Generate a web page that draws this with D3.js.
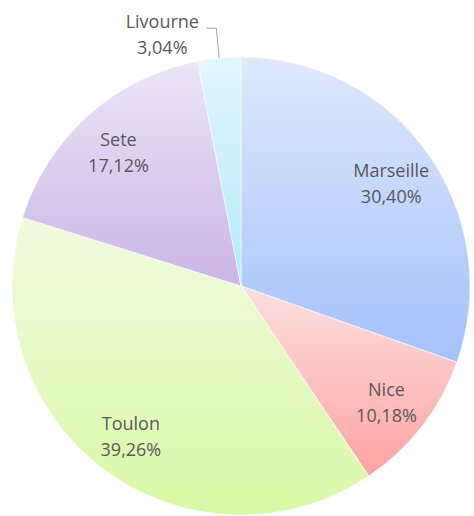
<!DOCTYPE html>
<html>
<head>
<meta charset="utf-8">
<script src="https://cdn.jsdelivr.net/npm/d3@7"></script>
<style>
  body { margin: 0; background: #fff; }
  text { font-family: "Open Sans", sans-serif; fill: #595959; }
</style>
</head>
<body>
<svg id="chart" width="474" height="516"></svg>
<script>
// data
var cities = ["Marseille", "Nice", "Toulon", "Sete", "Livourne"];
var shares = [30.40, 10.18, 39.26, 17.12, 3.04];
var topColors = ["#dfe8fc", "#fde0e0", "#f1fbe0", "#ece5f6", "#e2f6fd"];
var bottomColors = ["#a3c1fb", "#fca3a1", "#d8f9a4", "#cbb4e6", "#b2eafa"];

var svg = d3.select("#chart");
var cx = 241, cy = 286, R = 229;

var data = cities.map(function(c, i) {
  return { name: c, value: shares[i], i: i };
});

var pie = d3.pie().value(function(d) { return d.value; }).sort(null);
var arcs = pie(data);
var arc = d3.arc().innerRadius(0).outerRadius(R);
var labelArc = d3.arc().innerRadius(184).outerRadius(184);

// vertical gradients, one per slice over its own bbox
var defs = svg.append("defs");
arcs.forEach(function(a, i) {
  var g = defs.append("linearGradient")
    .attr("id", "grad" + i)
    .attr("x1", 0).attr("y1", 0).attr("x2", 0).attr("y2", 1);
  g.append("stop").attr("offset", "0%").attr("stop-color", topColors[i]);
  g.append("stop").attr("offset", "100%").attr("stop-color", bottomColors[i]);
});

var g = svg.append("g").attr("transform", "translate(" + cx + "," + cy + ")");

g.selectAll("path.slice")
  .data(arcs).enter().append("path")
  .attr("class", "slice")
  .attr("d", arc)
  .style("fill", function(d, i) { return "url(#grad" + i + ")"; })
  .style("stroke", "#ffffff")
  .style("stroke-width", 0.6);

function fmt(v) { return v.toFixed(2).replace(".", ",") + "%"; }

// labels inside
arcs.filter(function(d) { return d.data.value >= 5; }).forEach(function(d) {
  var c = labelArc.centroid(d);
  var t = g.append("text").attr("text-anchor", "middle").style("font-size", "18px");
  t.append("tspan").attr("x", c[0]).attr("y", c[1] - 3).text(d.data.name);
  t.append("tspan").attr("x", c[0]).attr("y", c[1] + 23).text(fmt(d.data.value));
});

// small slices: outside label with leader line
arcs.filter(function(d) { return d.data.value < 5; }).forEach(function(d) {
  var mid = (d.startAngle + d.endAngle) / 2;
  var p0 = [Math.sin(mid) * R, -Math.cos(mid) * R];
  var p1 = [Math.sin(mid) * 259, -Math.cos(mid) * 259];
  var p2 = [p1[0] - 10, p1[1]];
  g.append("polyline")
    .attr("points", [p0, p1, p2].map(function(p) { return p.join(","); }).join(" "))
    .style("fill", "none").style("stroke", "#a6a6a6").style("stroke-width", 1);
  var t = g.append("text").attr("text-anchor", "middle").style("font-size", "18px");
  var tx = p2[0] - 44;
  t.append("tspan").attr("x", tx).attr("y", p2[1]).text(d.data.name);
  t.append("tspan").attr("x", tx).attr("y", p2[1] + 26).text(fmt(d.data.value));
});
</script>
</body>
</html>
